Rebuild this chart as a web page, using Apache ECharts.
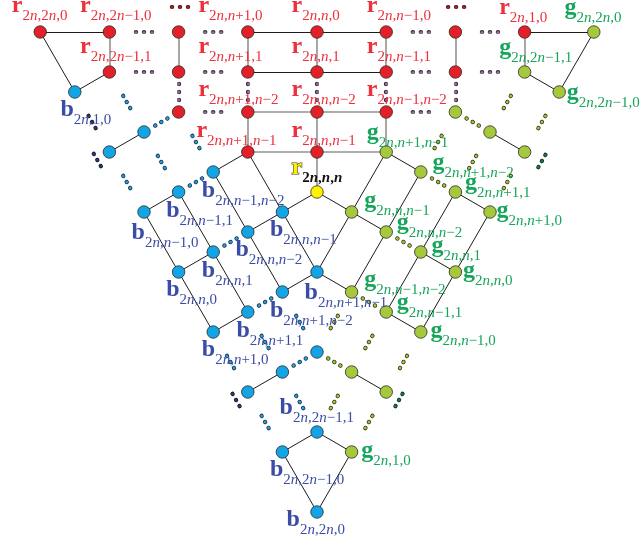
<!DOCTYPE html>
<html><head><meta charset="utf-8">
<script src="https://cdn.jsdelivr.net/npm/echarts@6/dist/echarts.min.js"></script>
<style>html,body{margin:0;padding:0;background:#fff}#c{width:642px;height:544px}</style>
</head><body><div id="c"></div>
<script>
// ---------------- DATA (lattice coordinates: column i, row j) ----------------
const redNodes = [[-8,0],[-6,0],[-6,2],[-4,0],[-4,2],[-4,4],[-2,0],[0,0],[2,0],[-2,2],[0,2],[2,2],[-2,4],[0,4],[2,4],[-2,6],[0,6],[4,0],[4,2],[6,0]];
const yellowNodes = [[0,8]];
const greenNodes = [[8,0],[6,2],[7,3],[4,4],[5,5],[6,6],[2,6],[3,7],[4,8],[5,9],[1,9],[2,10],[3,11],[4,12],[1,13],[2,14],[3,15],[1,17],[2,18],[1,21]];
const blueNodes = [[-7,3],[-5,5],[-6,6],[-3,7],[-4,8],[-5,9],[-1,9],[-2,10],[-3,11],[-4,12],[0,12],[-1,13],[-2,14],[-3,15],[0,16],[-1,17],[-2,18],[0,20],[-1,21],[0,24]];

const nodeLabels = {
  '-8,0':['r','2n,2n,0'], '-6,0':['r','2n,2n−1,0'], '-6,2':['r','2n,2n−1,1'],
  '-2,0':['r','2n,n+1,0'], '0,0':['r','2n,n,0'], '2,0':['r','2n,n−1,0'],
  '-2,2':['r','2n,n+1,1'], '0,2':['r','2n,n,1'], '2,2':['r','2n,n−1,1'],
  '-2,4':['r','2n,n+1,n−2'], '0,4':['r','2n,n,n−2'], '2,4':['r','2n,n−1,n−2'],
  '-2,6':['r','2n,n+1,n−1'], '0,6':['r','2n,n,n−1'], '6,0':['r','2n,1,0'],
  '0,8':['r','2n,n,n'],
  '8,0':['g','2n,2n,0'], '6,2':['g','2n,2n−1,1'], '7,3':['g','2n,2n−1,0'],
  '2,6':['g','2n,n+1,n−1'], '3,7':['g','2n,n+1,n−2'], '4,8':['g','2n,n+1,1'], '5,9':['g','2n,n+1,0'],
  '1,9':['g','2n,n,n−1'], '2,10':['g','2n,n,n−2'], '3,11':['g','2n,n,1'], '4,12':['g','2n,n,0'],
  '1,13':['g','2n,n−1,n−2'], '2,14':['g','2n,n−1,1'], '3,15':['g','2n,n−1,0'], '1,21':['g','2n,1,0'],
  '-7,3':['b','2n,1,0'], '-3,7':['b','2n,n−1,n−2'], '-4,8':['b','2n,n−1,1'], '-5,9':['b','2n,n−1,0'],
  '-1,9':['b','2n,n,n−1'], '-2,10':['b','2n,n,n−2'], '-3,11':['b','2n,n,1'], '-4,12':['b','2n,n,0'],
  '0,12':['b','2n,n+1,n−1'], '-1,13':['b','2n,n+1,n−2'], '-2,14':['b','2n,n+1,1'], '-3,15':['b','2n,n+1,0'],
  '0,20':['b','2n,2n−1,1'], '-1,21':['b','2n,2n−1,0'], '0,24':['b','2n,2n,0']
};

const blackEdges = [
  [-8,0,-6,0],[-2,0,0,0],[0,0,2,0],[-2,2,0,2],[0,2,2,2],[6,0,8,0],
  [-8,0,-7,3],[-7,3,-6,2],[-5,5,-6,6],
  [-2,6,-3,7],[-3,7,-2,10],[-2,10,-1,13],[-2,6,-1,9],[-1,9,0,12],
  [-4,8,-5,9],[-4,8,-3,11],[-3,11,-2,14],[-5,9,-4,12],[-4,12,-3,15],
  [-1,9,-2,10],[-3,11,-4,12],[0,12,-1,13],[-2,14,-3,15],[-1,17,-2,18],
  [0,8,-1,9],[0,8,1,9],
  [0,20,-1,21],[0,20,1,21],[-1,21,0,24],[1,21,0,24],
  [8,0,7,3],[6,2,7,3],[5,5,6,6],[2,6,3,7],[2,6,1,9],[1,9,0,12],[3,7,2,10],[2,10,1,13],
  [4,8,5,9],[4,8,3,11],[3,11,2,14],[5,9,4,12],[4,12,3,15],[1,9,2,10],[3,11,4,12],[0,12,1,13],[2,14,3,15],[1,17,2,18]
];
const grayEdges = [
  [-6,0,-6,2],[-4,0,-4,2],[-2,0,-2,2],[0,0,0,2],[2,0,2,2],[4,0,4,2],[6,0,6,2],
  [-2,4,-2,6],[0,4,0,6],[2,4,2,6],[0,6,0,8],
  [-2,4,0,4],[0,4,2,4],[-2,6,0,6],[0,6,2,6]
];
const purpleDotted = [
  [-6,0,-4,0],[-4,0,-2,0],[2,0,4,0],[4,0,6,0],
  [-6,2,-4,2],[-4,2,-2,2],[2,2,4,2],[4,2,6,2],
  [-4,4,-2,4],[2,4,4,4],
  [-4,2,-4,4],[-2,2,-2,4],[0,2,0,4],[2,2,2,4],[4,2,4,4]
];
const redDotted = [[-4.46,-1.25,-3.46,-1.25],[3.52,-1.25,4.52,-1.25]];
const blueDotted = [
  [-6,2,-5,5],[-5,5,-4,4],[-5,5,-4,8],[-6,6,-5,9],[-4,4,-3,7],[-4,8,-3,7],
  [-3,11,-2,10],[-1,13,-2,14],[-1,13,0,16],[-2,14,-1,17],[-3,15,-2,18],
  [0,16,-1,17],[-1,17,0,20],[-2,18,-1,21]
];
const darkBlueDotted = [[-7,3,-6,6],[-6.85,4.9,-5.85,7.9],[-2.84,16.9,-1.84,19.9]];
const greenDotted = [
  [6,2,5,5],[4,4,5,5],[4,4,3,7],[5,5,4,8],[7,3,6,6],[6,6,5,9],[3,7,4,8],
  [2,10,3,11],[1,13,2,14],[1,13,0,16],[2,14,1,17],[3,15,2,18],
  [0,16,1,17],[1,17,0,20],[2,18,1,21]
];
const darkGreenDotted = [[7,4.95,6,7.95],[2.87,16.9,1.87,19.9]];

// ---------------- LAYOUT / STYLE ----------------
const XMIN = -9.162, XMAX = 9.393, YMIN = -1.6, YMAX = 25.6;
const W = 642, H = 544;
const SX = W / (XMAX - XMIN), SY = H / (YMAX - YMIN);
const S = 12.5;          // node size
const BASE = 19;         // baseline offset inside label block
const SERIF = 'Liberation Serif';
// label anchor: [letter left - node x, baseline - node y] in px
const labelOffset = {
  '-8,0':[-28,-19], '-6,0':[-29,-19], '-6,2':[-29,-18], '-2,0':[-49,-19], '0,0':[-25,-19], '2,0':[-19,-19],
  '-2,2':[-49,-18], '0,2':[-25,-18], '2,2':[-19,-18], '-2,4':[-49,-15], '0,4':[-25,-15], '2,4':[-19,-15],
  '-2,6':[-51,-14], '0,6':[-25,-14], '6,0':[-25,-17], '0,8':[-25,-17],
  '8,0':[-29,-17], '6,2':[-25,-17], '7,3':[8,8], '2,6':[-19,-12], '3,7':[12,-2], '4,8':[10,-2], '5,9':[7,6],
  '1,9':[13,-4], '2,10':[11,-2], '3,11':[11,1], '4,12':[8,6], '1,13':[13,-5], '2,14':[11,-2], '3,15':[10,6], '1,21':[10,6],
  '-7,3':[-14,25], '-3,7':[-11,26], '-4,8':[-12,26], '-5,9':[-12,28], '-1,9':[-12,25], '-2,10':[-12,25],
  '-3,11':[-11,26], '-4,12':[-12,25], '0,12':[-12,28], '-1,13':[-12,26], '-2,14':[-11,26], '-3,15':[-11,25],
  '0,20':[-37,-17], '-1,21':[-12,25], '0,24':[-30,15]
};
const nodeColor = {red:'#e41f28', yellow:'#fff200', green:'#a6c93b', blue:'#12a4e4'};
const labelColor = {r:'#ee2f3c', g:'#17a55b', b:'#3b4ca6'};

const key = (i, j) => i + ',' + j;

function richText(k) {
  const [letter, sub] = nodeLabels[k];
  const yellow = (k === '0,8');
  let out = yellow ? '{my|' + letter + '}' : '{m|' + letter + '}';
  let buf = '';
  const sKey = yellow ? 'sb' : 's', iKey = yellow ? 'ib' : 'i';
  for (const ch of sub) {
    if (ch === 'n') {
      if (buf) { out += '{' + sKey + '|' + buf + '}'; buf = ''; }
      out += '{' + iKey + '|n}';
    } else buf += ch;
  }
  if (buf) out += '{' + sKey + '|' + buf + '}';
  return out;
}

const subBase = {fontFamily: SERIF, fontSize: 15, lineHeight: 15, padding: [15,0,0,0], verticalAlign: 'top'};
const rich = {
  m: {fontFamily: SERIF, fontSize: 24, fontWeight: 'bold', lineHeight: 22, verticalAlign: 'top'},
  my: {fontFamily: SERIF, fontSize: 24, fontWeight: 'bold', lineHeight: 22, verticalAlign: 'top',
       color: '#ffee00', textBorderColor: '#333', textBorderWidth: 1.2},
  s: Object.assign({}, subBase),
  i: Object.assign({fontStyle: 'italic'}, subBase),
  sb: Object.assign({fontWeight: 'bold', color: '#111'}, subBase),
  ib: Object.assign({fontWeight: 'bold', fontStyle: 'italic', color: '#111'}, subBase)
};

// main nodes
const mainNodes = [];
function addNodes(list, color) {
  list.forEach(([i, j]) => {
    const k = key(i, j);
    const item = {name: k, value: [i, j], itemStyle: {color: color}};
    if (nodeLabels[k]) {
      const off = labelOffset[k];
      const txt = richText(k);
      item.label = {
        show: true,
        position: [off[0] + S / 2, off[1] - BASE + S / 2],
        align: 'left', verticalAlign: 'top',
        color: labelColor[nodeLabels[k][0]],
        formatter: () => txt
      };
    }
    mainNodes.push(item);
  });
}
addNodes(redNodes, nodeColor.red);
addNodes(yellowNodes, nodeColor.yellow);
addNodes(greenNodes, nodeColor.green);
addNodes(blueNodes, nodeColor.blue);

const mainLinks = [];
grayEdges.forEach(e => mainLinks.push({source: key(e[0], e[1]), target: key(e[2], e[3]), lineStyle: {color: '#929292', width: 1.6}}));
blackEdges.forEach(e => mainLinks.push({source: key(e[0], e[1]), target: key(e[2], e[3]), lineStyle: {color: '#1c1c1c', width: 1}}));

// dotted layers
const dotGroups = [
  {edges: purpleDotted, gap: 8, outline: '#3a2a3c', fill: '#95779a'},
  {edges: redDotted, gap: 8, outline: '#4a1416', fill: '#a52a2e'},
  {edges: blueDotted, gap: 7, outline: '#1a2c48', fill: '#1fa2df'},
  {edges: darkBlueDotted, gap: 7, outline: '#10162e', fill: '#2e3b6e'},
  {edges: greenDotted, gap: 7, outline: '#2c3814', fill: '#a8c33b'},
  {edges: darkGreenDotted, gap: 7, outline: '#0d2a18', fill: '#1d7a48'}
];
const dotNodesMap = {};
const outlineLinks = [], fillLinks = [];
dotGroups.forEach(g => {
  g.edges.forEach(e => {
    const a = key(e[0], e[1]), b = key(e[2], e[3]);
    dotNodesMap[a] = [e[0], e[1]]; dotNodesMap[b] = [e[2], e[3]];
    const L = Math.hypot((e[2] - e[0]) * SX, (e[3] - e[1]) * SY);
    const d = 0.3, gap = g.gap;
    const dash = [d, gap - d, d, gap - d, d, 4000];
    const off = -(L / 2 - gap - d / 2);
    outlineLinks.push({source: a, target: b, lineStyle: {color: g.outline, width: 4.2, type: dash, dashOffset: off, cap: 'round', opacity: 1}});
    fillLinks.push({source: a, target: b, lineStyle: {color: g.fill, width: 2.7, type: dash, dashOffset: off, cap: 'round', opacity: 1}});
  });
});
const dotNodes = Object.keys(dotNodesMap).map(k => ({name: k, value: dotNodesMap[k]}));

function dotSeries(links) {
  return {
    type: 'graph', coordinateSystem: 'cartesian2d', silent: true,
    symbol: 'circle', symbolSize: 0, data: dotNodes, links: links,
    lineStyle: {opacity: 1, curveness: 0}, label: {show: false},
    emphasis: {disabled: true}
  };
}

const chart = echarts.init(document.getElementById('c'), null, {renderer: 'canvas'});
chart.setOption({
  animation: false,
  backgroundColor: '#ffffff',
  grid: {left: 0, right: 0, top: 0, bottom: 0},
  xAxis: {type: 'value', min: XMIN, max: XMAX, show: false},
  yAxis: {type: 'value', min: YMIN, max: YMAX, inverse: true, show: false},
  series: [
    dotSeries(outlineLinks),
    dotSeries(fillLinks),
    {
      type: 'graph', coordinateSystem: 'cartesian2d', silent: true,
      symbol: 'circle', symbolSize: S,
      data: mainNodes, links: mainLinks,
      itemStyle: {borderColor: '#2b2b2b', borderWidth: 0.8},
      lineStyle: {opacity: 1, curveness: 0},
      label: {show: false, rich: rich},
      emphasis: {disabled: true}
    }
  ]
});
</script>
</body></html>
